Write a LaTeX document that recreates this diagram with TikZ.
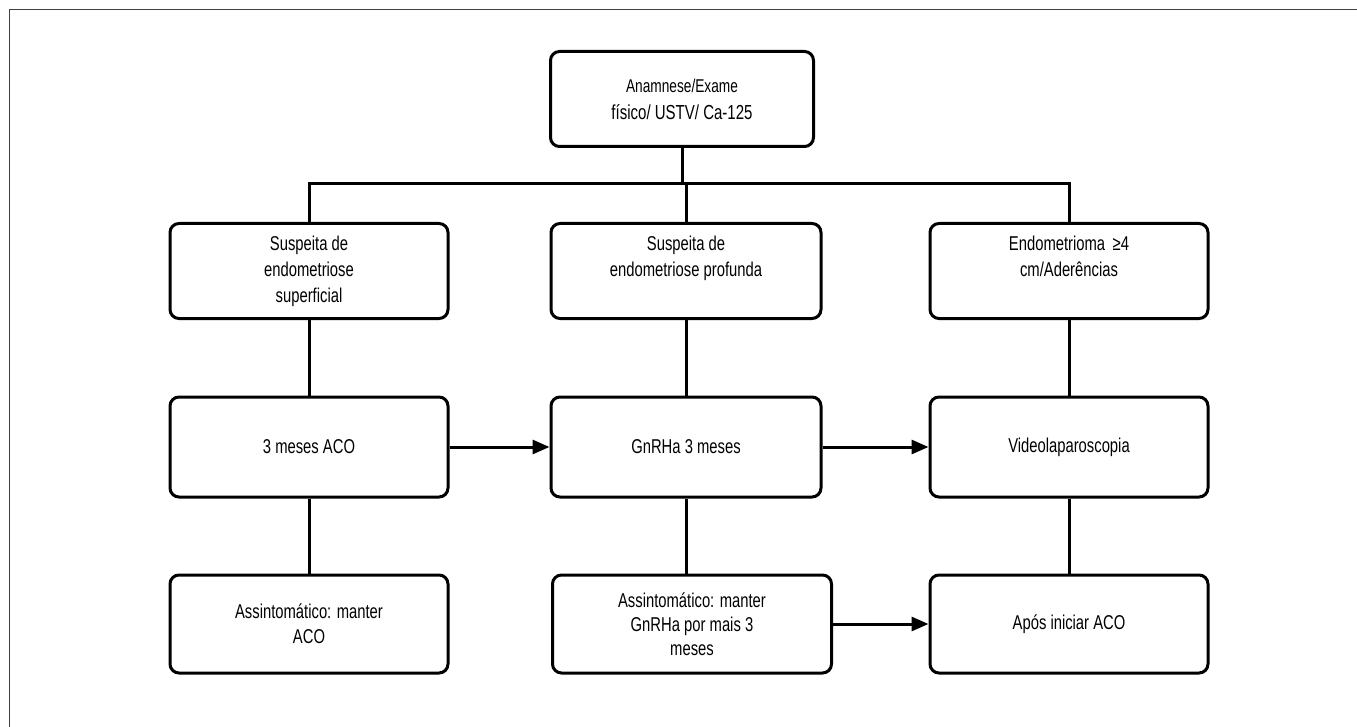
\documentclass[tikz,border=0pt]{standalone}
\usepackage{fontspec}
\setmainfont{Liberation Sans}[FakeStretch=0.74]
\usetikzlibrary{arrows.meta,calc}
\begin{document}
\begin{tikzpicture}[x=1pt,y=-1pt,
  box/.style={draw,line width=3pt,rounded corners=9pt,minimum width=278pt,minimum height=96pt,inner sep=0pt,align=center,font=\fontsize{20}{25}\selectfont},
  lbl/.style={align=center,font=\fontsize{20}{26}\selectfont},
  conn/.style={line width=3pt},
  arr/.style={line width=3pt,-{Triangle[length=17pt,width=14pt]}}]
\useasboundingbox (0,0) rectangle (1357,727);
\draw[line width=1.6pt,black!75] (9.5,727) -- (9.5,9.5) -- (1357,9.5);

% top
\node[box,minimum width=263pt,minimum height=95pt,font=\fontsize{20.3}{27}\selectfont] (top) at (682,99)
  {{\fontsize{18.5}{18}\selectfont Anamnese/Exame}\\físico/ USTV/ Ca-125};
\coordinate (bus) at (682,184);

% row 2
\node[box,minimum height=95pt] (L2) at (309,271) {};
\node[box,minimum width=270pt,minimum height=95pt] (M2) at (686,271) {};
\node[box,minimum height=95pt] (R2) at (1069,271) {};
\node[lbl,anchor=north] (L2t) at ($(L2.north)+(0,10)$) {Suspeita de\\endometriose\\superficial};
\node[lbl,anchor=north] (M2t) at ($(M2.north)+(0,10)$) {Suspeita de\\endometriose profunda};
\node[lbl,anchor=north] (R2t) at ($(R2.north)+(0,10)$) {Endometrioma \,≥4\\cm/Aderências};

% row 3
\node[box,minimum height=100pt] (L3) at (309,447) {3 meses ACO};
\node[box,minimum width=270pt,minimum height=100pt] (M3) at (686,447) {GnRHa 3 meses};
\node[box,minimum height=100pt] (R3) at (1069,447) {Videolaparoscopia};

% row 4
\node[box,minimum height=98pt] (L4) at (309,624) {Assintomático: manter\\ACO};
\node[box,minimum width=279pt,minimum height=98pt,font=\fontsize{20}{24}\selectfont] (M4) at (692,624) {Assintomático: manter\\GnRHa por mais 3\\meses};
\node[box,minimum height=98pt] (R4) at (1069,624) {Após iniciar ACO};

% connectors
\draw[conn] (top.south) -- (bus);
\draw[conn] (L2.north) -- (L2.north |- bus) -- (R2.north |- bus) -- (R2.north);
\draw[conn] (M2.north) -- (M2.north |- bus);
\draw[conn] (L2.south) -- (L3.north);
\draw[conn] (L3.south) -- (L4.north);
\draw[conn] (M2.south) -- (M3.north);
\draw[conn] (M3.south) -- (M3.south |- M4.north);
\draw[conn] (R2.south) -- (R3.north);
\draw[conn] (R3.south) -- (R4.north);
\draw[arr] (L3.east) -- (M3.west);
\draw[arr] (M3.east) -- (R3.west);
\draw[arr] (M4.east) -- (R4.west);
\end{tikzpicture}
\end{document}
